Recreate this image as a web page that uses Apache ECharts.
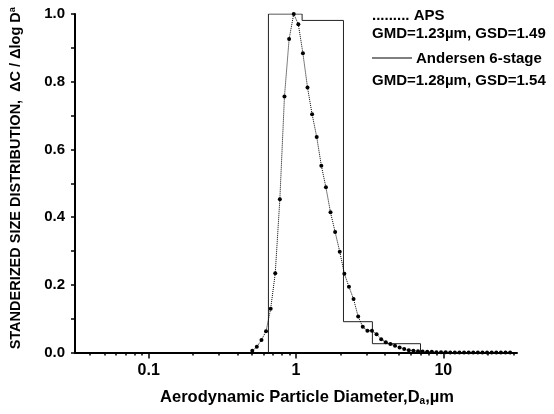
<!DOCTYPE html>
<html>
<head>
<meta charset="utf-8">
<script src="https://cdn.jsdelivr.net/npm/echarts@6/dist/echarts.min.js"></script>
<style>
html,body{margin:0;padding:0;background:#fff;}
#chart{width:554px;height:414px;}
</style>
</head>
<body>
<div id="chart"></div>
<script>
// ---- data ----
var apsDiam = [0.505, 0.542, 0.583, 0.626, 0.673, 0.723, 0.777, 0.835, 0.898, 0.965,
  1.037, 1.114, 1.197, 1.286, 1.382, 1.486, 1.596, 1.715, 1.843, 1.981,
  2.129, 2.288, 2.458, 2.642, 2.839, 3.051, 3.278, 3.523, 3.786, 4.068,
  4.371, 4.698, 5.048, 5.425, 5.829, 6.264, 6.732, 7.234, 7.774, 8.354,
  8.977, 9.647, 10.37, 11.14, 11.97, 12.86, 13.82, 14.86, 15.96, 17.15,
  18.43, 19.81, 21.29, 22.88, 24.58, 26.42, 28.39];
var apsValue = [0.005, 0.017, 0.037, 0.063, 0.129, 0.234, 0.453, 0.756, 0.926, 1.0,
  0.970, 0.884, 0.783, 0.704, 0.637, 0.552, 0.488, 0.414, 0.356, 0.298,
  0.233, 0.194, 0.158, 0.106, 0.076, 0.064, 0.064, 0.054, 0.039, 0.030,
  0.025, 0.020, 0.015, 0.010, 0.007, 0.005, 0.004, 0.003, 0.002, 0.002,
  0.001, 0.001, 0.001, 0, 0, 0, 0, 0, 0, 0,
  0, 0, 0, 0, 0, 0, 0];
var andersenEdges = [0.65, 1.1, 2.1, 3.3, 7.0];
var andersenValue = [1.0, 0.981, 0.091, 0.026];
var xMajorTicks = [0.1, 1, 10];
var xMinorTicks = [0.04, 0.05, 0.06, 0.07, 0.08, 0.09,
  0.2, 0.3, 0.4, 0.5, 0.6, 0.7, 0.8, 0.9,
  2, 3, 4, 5, 6, 7, 8, 9, 20, 30];
var xMin = 0.031623, xMax = 31.623;
var yMin = 0, yMax = 1.0, yStep = 0.2;

// ---- build series data ----
var apsData = apsDiam.map(function (d, i) { return [d, apsValue[i]]; });
var andData = [[andersenEdges[0], 0]];
for (var i = 0; i < andersenValue.length; i++) {
  andData.push([andersenEdges[i], andersenValue[i]]);
  andData.push([andersenEdges[i + 1], andersenValue[i]]);
}
andData.push([andersenEdges[andersenEdges.length - 1], 0]);

var FONT = 'Liberation Sans, Arial, sans-serif';
var chart = echarts.init(document.getElementById('chart'), null, {renderer: 'canvas'});
chart.setOption({
  animation: false,
  backgroundColor: '#fff',
  grid: {left: 75, right: 37, top: 14, bottom: 61.5, containLabel: false},
  xAxis: [{
    type: 'log', logBase: 10, min: xMin, max: xMax,
    axisLine: {show: true, onZero: false, lineStyle: {color: '#000', width: 2}},
    axisTick: {show: true, length: 6, inside: false, customValues: xMajorTicks, lineStyle: {color: '#000', width: 1.5}},
    axisLabel: {show: true, customValues: xMajorTicks, margin: 10, color: '#000',
      fontFamily: FONT, fontWeight: 'bold', fontSize: 16,
      formatter: function (v) { return String(v); }},
    splitLine: {show: false},
    name: 'Aerodynamic Particle Diameter,D{s|a},µm',
    nameLocation: 'middle', nameGap: 36,
    nameTextStyle: {color: '#000', fontFamily: FONT, fontWeight: 'bold', fontSize: 16.5, padding: [0, 0, 0, 22],
      rich: {s: {fontFamily: FONT, fontWeight: 'bold', fontSize: 10, verticalAlign: 'bottom', padding: [8, 0, 0, 0]}}}
  }, {
    type: 'log', logBase: 10, min: xMin, max: xMax, position: 'bottom',
    axisLine: {show: false},
    axisTick: {show: true, length: 3, inside: false, customValues: xMinorTicks, lineStyle: {color: '#000', width: 1.5}},
    axisLabel: {show: false},
    splitLine: {show: false}
  }],
  yAxis: {
    type: 'value', min: yMin, max: yMax, interval: yStep,
    axisLine: {show: true, lineStyle: {color: '#000', width: 2}},
    axisTick: {show: true, length: 4, lineStyle: {color: '#000', width: 1.5}},
    minorTick: {show: true, splitNumber: 2, length: 4, lineStyle: {color: '#000', width: 1.5}},
    axisLabel: {margin: 10, color: '#000', fontFamily: FONT, fontWeight: 'bold', fontSize: 15,
      formatter: function (v) { return v.toFixed(1); }},
    splitLine: {show: false},
    name: '{t|STANDERIZED SIZE DISTRIBUTION,  ΔC / Δlog D}{s|a}',
    nameLocation: 'middle', nameRotate: 90, nameGap: 52,
    nameTextStyle: {padding: [0, 0, 0, 10], rich: {
      t: {color: '#000', fontFamily: FONT, fontWeight: 'bold', fontSize: 14.5},
      s: {color: '#000', fontFamily: FONT, fontWeight: 'bold', fontSize: 9, verticalAlign: 'top'}}}
  },
  series: [{
    name: 'Andersen 6-stage', type: 'line', xAxisIndex: 0, data: andData,
    symbol: 'none', lineStyle: {color: '#222', width: 1}, z: 2
  }, {
    name: 'APS', type: 'line', xAxisIndex: 0, data: apsData,
    symbol: 'circle', symbolSize: 4, itemStyle: {color: '#000'},
    lineStyle: {color: '#000', width: 1, type: 'dotted'}, z: 3
  }],
  graphic: [
    {type: 'text', left: 372, top: 8, style: {text: '......... APS', fill: '#000', font: 'bold 15px ' + FONT}},
    {type: 'text', left: 372, top: 26.5, style: {text: 'GMD=1.23µm, GSD=1.49', fill: '#000', font: 'bold 15px ' + FONT}},
    {type: 'line', shape: {x1: 372, y1: 58, x2: 412, y2: 58}, style: {stroke: '#000', lineWidth: 1}},
    {type: 'text', left: 416, top: 51, style: {text: 'Andersen 6-stage', fill: '#000', font: 'bold 15px ' + FONT}},
    {type: 'text', left: 372, top: 73, style: {text: 'GMD=1.28µm, GSD=1.54', fill: '#000', font: 'bold 15px ' + FONT}}
  ]
});
</script>
</body>
</html>
